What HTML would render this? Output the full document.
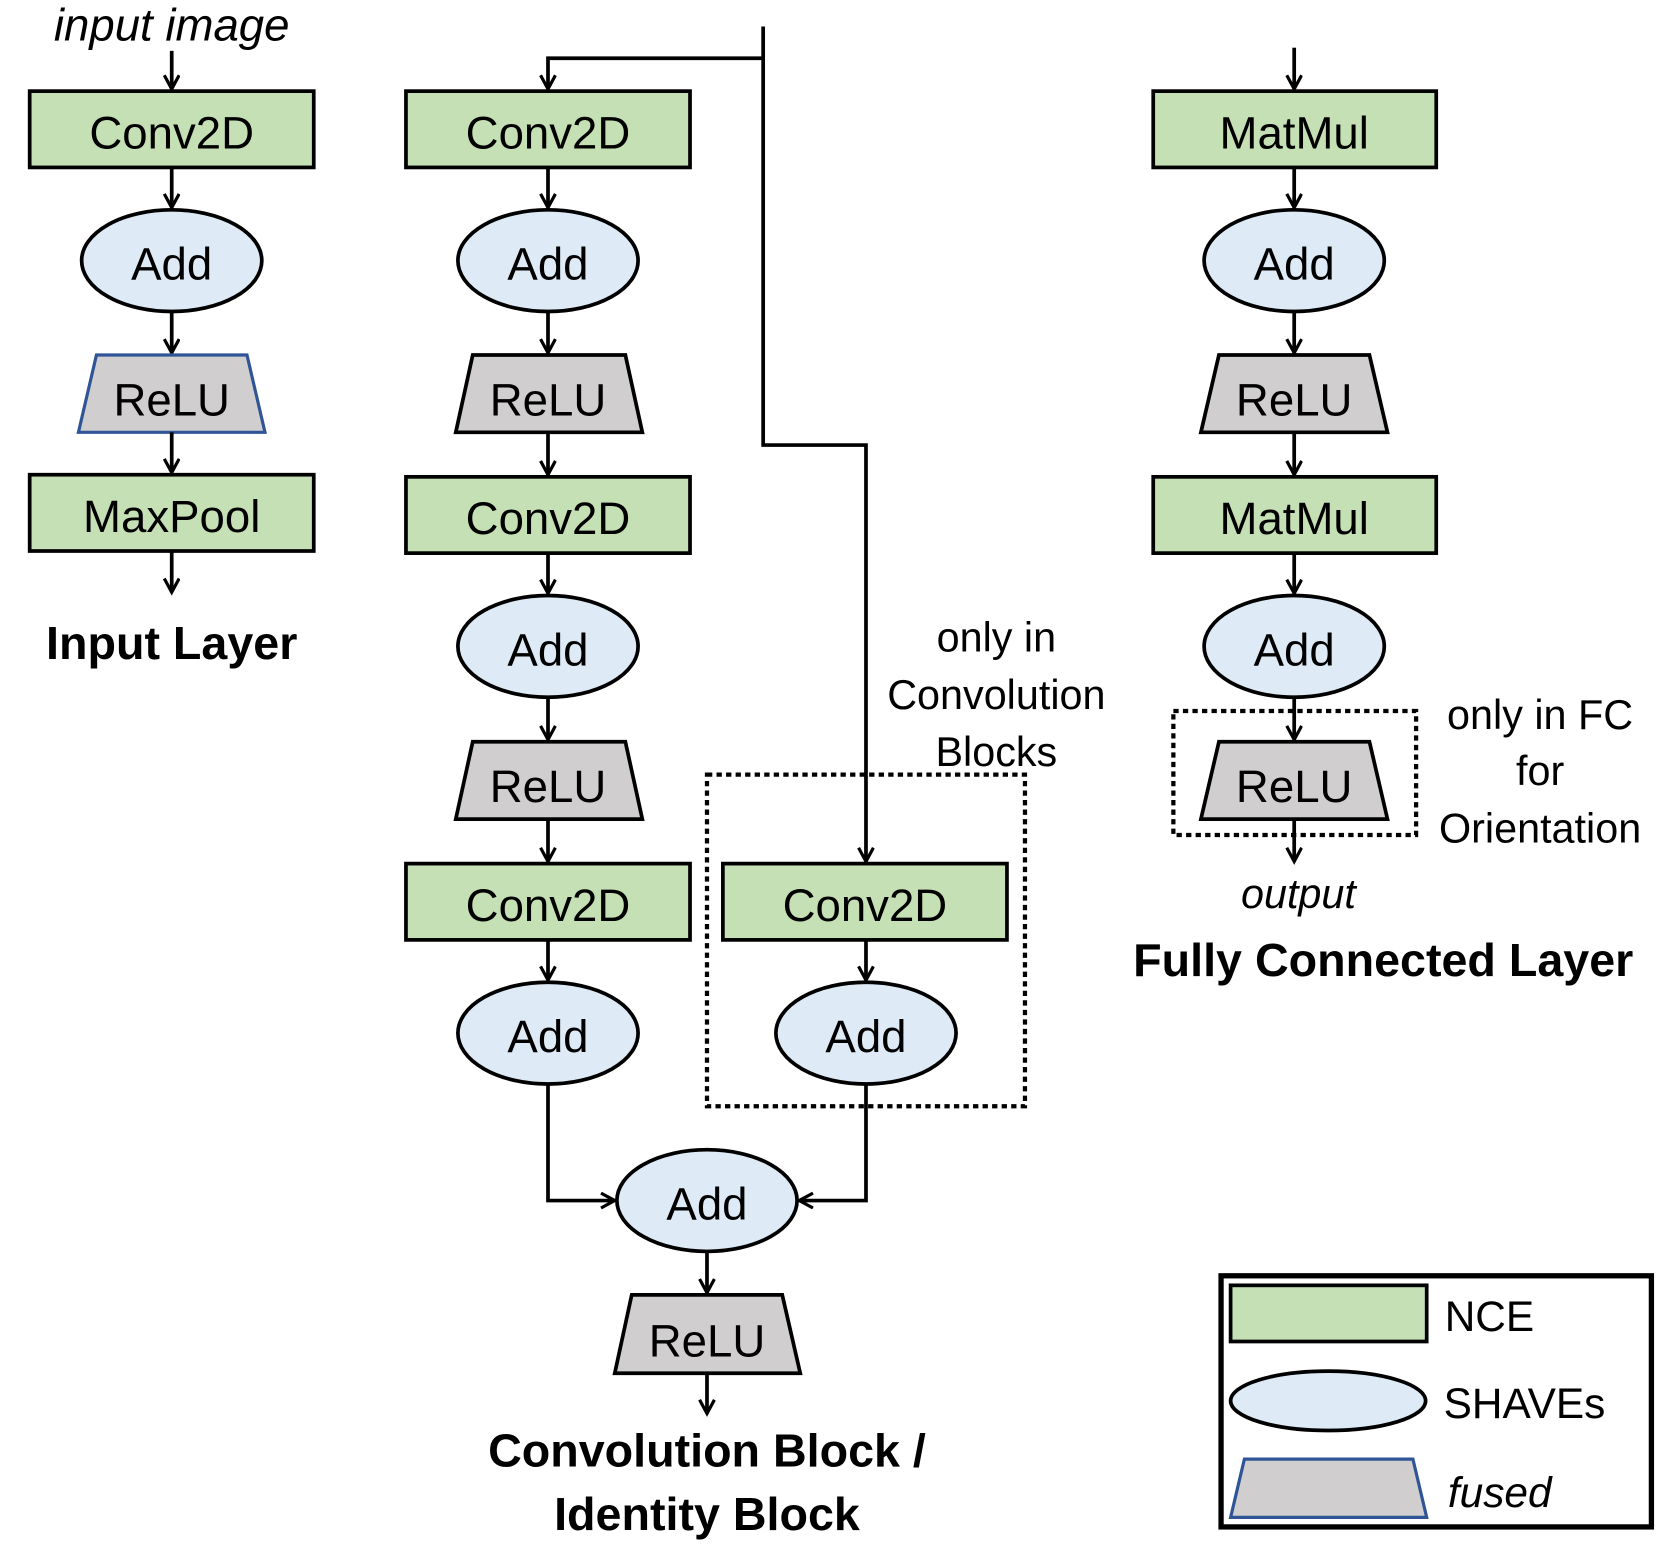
<!DOCTYPE html>
<html><head><meta charset="utf-8"><style>
html,body{margin:0;padding:0;background:#fff;width:1662px;height:1546px;overflow:hidden}
svg{display:block}
text{font-family:"Liberation Sans",sans-serif;fill:#000}
.n{font-size:43px;text-anchor:middle}
.b{font-size:44px;font-weight:bold;text-anchor:middle}
.t{font-size:39px;text-anchor:middle}
.r{fill:#c5e0b4;stroke:#000;stroke-width:3.5}
.e{fill:#deebf7;stroke:#000;stroke-width:3.5}
.p{fill:#d0cece;stroke:#000;stroke-width:3.5}
.pb{fill:#d0cece;stroke:#2f5597;stroke-width:3}
.l{fill:none;stroke:#000;stroke-width:3.5}
.d{fill:none;stroke:#000;stroke-width:4;stroke-dasharray:5 4}
</style></head><body>
<svg width="1662" height="1546" viewBox="0 0 1568 1459" preserveAspectRatio="none" xmlns="http://www.w3.org/2000/svg">
<defs><marker id="a" markerWidth="20" markerHeight="20" refX="14" refY="8" orient="auto" markerUnits="userSpaceOnUse"><path d="M1,1 L14,8 L1,15" fill="none" stroke="#000" stroke-width="3"/></marker></defs>

<!-- Column 1 -->
<text x="162" y="38" class="n" font-style="italic" font-size="40">input image</text>
<line x1="162" y1="48" x2="162" y2="84" class="l" marker-end="url(#a)"/>
<rect x="28" y="86" width="268" height="72" class="r"/><text x="162" y="140" class="n">Conv2D</text>
<line x1="162" y1="158" x2="162" y2="196" class="l" marker-end="url(#a)"/>
<ellipse cx="162" cy="246" rx="85" ry="48" class="e"/><text x="162" y="264" class="n">Add</text>
<line x1="162" y1="294" x2="162" y2="333" class="l" marker-end="url(#a)"/>
<polygon points="91,335 233,335 250,408 74,408" class="pb"/><text x="162" y="392" class="n">ReLU</text>
<line x1="162" y1="408" x2="162" y2="446" class="l" marker-end="url(#a)"/>
<rect x="28" y="448" width="268" height="72" class="r"/><text x="162" y="502" class="n">MaxPool</text>
<line x1="162" y1="520" x2="162" y2="559" class="l" marker-end="url(#a)"/>
<text x="162" y="622" class="b">Input Layer</text>

<!-- Column 2 -->
<polyline points="720,25 720,55 517,55 517,84" class="l" marker-end="url(#a)"/>
<polyline points="720,55 720,420 817,420 817,813" class="l" marker-end="url(#a)"/>
<rect x="383" y="86" width="268" height="72" class="r"/><text x="517" y="140" class="n">Conv2D</text>
<line x1="517" y1="158" x2="517" y2="196" class="l" marker-end="url(#a)"/>
<ellipse cx="517" cy="246" rx="85" ry="48" class="e"/><text x="517" y="264" class="n">Add</text>
<line x1="517" y1="294" x2="517" y2="333" class="l" marker-end="url(#a)"/>
<polygon points="446,335 590,335 606,408 430,408" class="p"/><text x="517" y="392" class="n">ReLU</text>
<line x1="517" y1="408" x2="517" y2="448" class="l" marker-end="url(#a)"/>
<rect x="383" y="450" width="268" height="72" class="r"/><text x="517" y="504" class="n">Conv2D</text>
<line x1="517" y1="522" x2="517" y2="560" class="l" marker-end="url(#a)"/>
<ellipse cx="517" cy="610" rx="85" ry="48" class="e"/><text x="517" y="628" class="n">Add</text>
<line x1="517" y1="658" x2="517" y2="698" class="l" marker-end="url(#a)"/>
<polygon points="446,700 590,700 606,773 430,773" class="p"/><text x="517" y="757" class="n">ReLU</text>
<line x1="517" y1="773" x2="517" y2="813" class="l" marker-end="url(#a)"/>
<rect x="383" y="815" width="268" height="72" class="r"/><text x="517" y="869" class="n">Conv2D</text>
<line x1="517" y1="887" x2="517" y2="925" class="l" marker-end="url(#a)"/>
<ellipse cx="517" cy="975" rx="85" ry="48" class="e"/><text x="517" y="993" class="n">Add</text>

<rect x="682" y="815" width="268" height="72" class="r"/><text x="816" y="869" class="n">Conv2D</text>
<line x1="817" y1="887" x2="817" y2="925" class="l" marker-end="url(#a)"/>
<ellipse cx="817" cy="975" rx="85" ry="48" class="e"/><text x="817" y="993" class="n">Add</text>
<rect x="667" y="731" width="300" height="313" class="d"/>
<text x="940" y="615" class="t">only in</text>
<text x="940" y="669" class="t">Convolution</text>
<text x="940" y="723" class="t">Blocks</text>

<polyline points="517,1023 517,1133 580,1133" class="l" marker-end="url(#a)"/>
<polyline points="817,1023 817,1133 754,1133" class="l" marker-end="url(#a)"/>
<ellipse cx="667" cy="1133" rx="85" ry="48" class="e"/><text x="667" y="1151" class="n">Add</text>
<line x1="667" y1="1181" x2="667" y2="1220" class="l" marker-end="url(#a)"/>
<polygon points="596,1222 738,1222 755,1296 580,1296" class="p"/><text x="667" y="1280" class="n">ReLU</text>
<line x1="667" y1="1296" x2="667" y2="1334" class="l" marker-end="url(#a)"/>
<text x="667" y="1384" class="b">Convolution Block /</text>
<text x="667" y="1444" class="b">Identity Block</text>

<!-- Column 3 -->
<line x1="1221" y1="45" x2="1221" y2="84" class="l" marker-end="url(#a)"/>
<rect x="1088" y="86" width="267" height="72" class="r"/><text x="1221" y="140" class="n">MatMul</text>
<line x1="1221" y1="158" x2="1221" y2="196" class="l" marker-end="url(#a)"/>
<ellipse cx="1221" cy="246" rx="85" ry="48" class="e"/><text x="1221" y="264" class="n">Add</text>
<line x1="1221" y1="294" x2="1221" y2="333" class="l" marker-end="url(#a)"/>
<polygon points="1150,335 1292,335 1309,408 1133,408" class="p"/><text x="1221" y="392" class="n">ReLU</text>
<line x1="1221" y1="408" x2="1221" y2="448" class="l" marker-end="url(#a)"/>
<rect x="1088" y="450" width="267" height="72" class="r"/><text x="1221" y="504" class="n">MatMul</text>
<line x1="1221" y1="522" x2="1221" y2="560" class="l" marker-end="url(#a)"/>
<ellipse cx="1221" cy="610" rx="85" ry="48" class="e"/><text x="1221" y="628" class="n">Add</text>
<line x1="1221" y1="658" x2="1221" y2="698" class="l" marker-end="url(#a)"/>
<rect x="1107" y="671" width="229" height="117" class="d"/>
<polygon points="1150,700 1292,700 1309,773 1133,773" class="p"/><text x="1221" y="757" class="n">ReLU</text>
<line x1="1221" y1="773" x2="1221" y2="813" class="l" marker-end="url(#a)"/>
<text x="1225" y="857" class="t" font-style="italic" font-size="40">output</text>
<text x="1305" y="921" class="b">Fully Connected Layer</text>
<text x="1453" y="688" class="t">only in FC</text>
<text x="1453" y="741" class="t">for</text>
<text x="1453" y="795" class="t">Orientation</text>

<!-- Legend -->
<rect x="1152" y="1204" width="406" height="237" fill="none" stroke="#000" stroke-width="5"/>
<rect x="1161" y="1213" width="185" height="53" class="r"/>
<ellipse cx="1253" cy="1322" rx="92" ry="28" class="e"/>
<polygon points="1174,1377 1333,1377 1346,1432 1161,1432" class="pb"/>
<text x="1363" y="1256" font-size="40">NCE</text>
<text x="1362" y="1338" font-size="40">SHAVEs</text>
<text x="1366" y="1422" font-size="40" font-style="italic">fused</text>
</svg>
</body></html>
